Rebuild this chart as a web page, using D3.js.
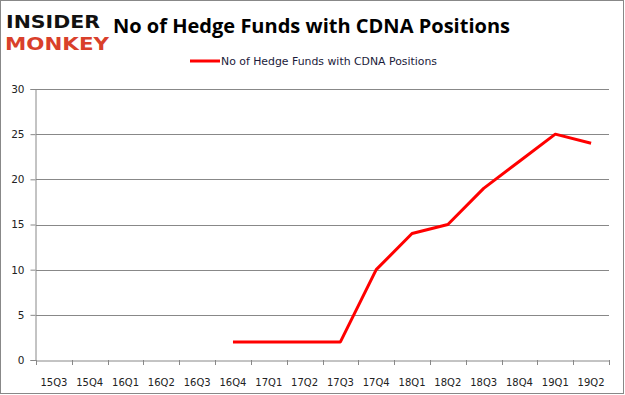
<!DOCTYPE html>
<html>
<head>
<meta charset="utf-8">
<script src="https://cdn.jsdelivr.net/npm/d3@7"></script>
<style>
  body { margin: 0; background: #fff; }
  svg { display: block; }
</style>
</head>
<body>
<svg width="625" height="395"></svg>
<script>
const quarters = ['15Q3', '15Q4', '16Q1', '16Q2', '16Q3', '16Q4', '17Q1', '17Q2',
  '17Q3', '17Q4', '18Q1', '18Q2', '18Q3', '18Q4', '19Q1', '19Q2'];
const funds = [null, null, null, null, null, 2, 2, 2, 2, 10, 14, 15, 19, 22, 25, 24];
const yTicks = [0, 5, 10, 15, 20, 25, 30];
const seriesName = 'No of Hedge Funds with CDNA Positions';

const svg = d3.select('svg');
const MARGIN = { TOP: 89, RIGHT: 16, BOTTOM: 35, LEFT: 36 };
const WIDTH = +svg.attr('width') - MARGIN.LEFT - MARGIN.RIGHT;
const HEIGHT = +svg.attr('height') - MARGIN.TOP - MARGIN.BOTTOM;

// outer border
svg.append('rect')
  .attr('x', 0.5).attr('y', 0.5)
  .attr('width', 623).attr('height', 393)
  .attr('fill', '#fff')
  .attr('stroke', '#888');

// logo
svg.append('text')
  .attr('x', 6).attr('y', 28)
  .attr('font-family', 'DejaVu Sans')
  .attr('font-weight', 'bold')
  .attr('font-size', 18)
  .attr('textLength', 94)
  .attr('lengthAdjust', 'spacingAndGlyphs')
  .attr('fill', '#111')
  .text('INSIDER');
svg.append('text')
  .attr('x', 5).attr('y', 50)
  .attr('font-family', 'DejaVu Sans')
  .attr('font-weight', 'bold')
  .attr('font-size', 18)
  .attr('textLength', 104)
  .attr('lengthAdjust', 'spacingAndGlyphs')
  .attr('fill', '#d9402b')
  .text('MONKEY');

// title
svg.append('text')
  .attr('x', 113).attr('y', 33)
  .attr('font-family', 'Open Sans, sans-serif')
  .attr('font-weight', 'bold')
  .attr('font-size', 20)
  .attr('textLength', 397)
  .attr('lengthAdjust', 'spacingAndGlyphs')
  .attr('fill', '#000')
  .text('No of Hedge Funds with CDNA Positions');

// legend
svg.append('line')
  .attr('x1', 190).attr('x2', 220)
  .attr('y1', 61).attr('y2', 61)
  .attr('stroke', '#ff0000')
  .attr('stroke-width', 3);
svg.append('text')
  .attr('x', 221).attr('y', 65)
  .attr('font-family', 'DejaVu Sans, sans-serif')
  .attr('font-size', 10.5)
  .attr('textLength', 216)
  .attr('lengthAdjust', 'spacingAndGlyphs')
  .attr('fill', '#1a1a3a')
  .text(seriesName);

const g = svg.append('g')
  .attr('transform', `translate(${MARGIN.LEFT}, ${MARGIN.TOP})`);

// scales
const x = d3.scaleBand().domain(quarters).range([0, WIDTH]);
const y = d3.scaleLinear().domain([0, 30]).range([HEIGHT, 0]);

// gridlines
g.append('g')
  .selectAll('line')
  .data(yTicks.filter(d => d > 0))
  .join('line')
  .attr('x1', 0).attr('x2', WIDTH)
  .attr('y1', d => Math.round(y(d)) + 0.5)
  .attr('y2', d => Math.round(y(d)) + 0.5)
  .attr('stroke', '#888');

// y axis
const yAxis = g.append('g')
  .attr('transform', 'translate(-0.5,0)')
  .call(d3.axisLeft(y).tickValues(yTicks).tickSize(5).tickPadding(6));
yAxis.select('.domain').attr('stroke', '#888');
yAxis.selectAll('.tick line').attr('stroke', '#888');
yAxis.selectAll('.tick text')
  .attr('font-family', 'DejaVu Sans, sans-serif')
  .attr('font-size', 10.5)
  .attr('fill', '#222');

// x axis
const xAxis = g.append('g')
  .attr('transform', `translate(0, ${HEIGHT + 0.5})`)
  .call(d3.axisBottom(x).tickSize(0).tickPadding(18));
xAxis.select('.domain').attr('stroke', '#888');
xAxis.selectAll('.tick text')
  .attr('font-family', 'DejaVu Sans, sans-serif')
  .attr('font-size', 10)
  .attr('fill', '#222');
g.append('g')
  .selectAll('line')
  .data(quarters.concat(['end']))
  .join('line')
  .attr('x1', (d, i) => Math.round(i * x.bandwidth()) + 0.5)
  .attr('x2', (d, i) => Math.round(i * x.bandwidth()) + 0.5)
  .attr('y1', HEIGHT)
  .attr('y2', HEIGHT + 5)
  .attr('stroke', '#888');

// line
const line = d3.line()
  .defined(d => d !== null)
  .x((d, i) => x(quarters[i]) + x.bandwidth() / 2)
  .y(d => y(d));

g.append('path')
  .attr('fill', 'none')
  .attr('stroke', '#ff0000')
  .attr('stroke-width', 3)
  .attr('stroke-linejoin', 'round')
  .attr('d', line(funds));
</script>
</body>
</html>
